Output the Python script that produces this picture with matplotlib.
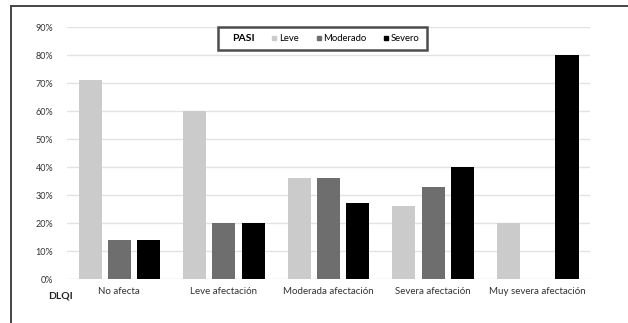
import numpy as np
import matplotlib.pyplot as plt
from matplotlib.lines import Line2D
from matplotlib.patches import Rectangle

plt.rcParams['font.family'] = ['Lato', 'DejaVu Sans']

categories = ["No afecta", "Leve afectación", "Moderada afectación",
              "Severa afectación", "Muy severa afectación"]
leve = [71, 60, 36, 26, 20]
moderado = [14, 20, 36, 33, 0]
severo = [14, 20, 27, 40, 80]
yticks = [0, 10, 20, 30, 40, 50, 60, 70, 80, 90]

series = [("Leve", leve, "#cbcbcb"),
          ("Moderado", moderado, "#6e6e6e"),
          ("Severo", severo, "#000000")]

fig = plt.figure(figsize=(6.28, 3.23), dpi=100)
ax = fig.add_axes([0.1067, 0.1362, 0.8328, 0.7802])

x = np.arange(len(categories))
width = 0.22
step = 0.28
for i, (name, vals, col) in enumerate(series):
    ax.bar(x + (i - 1) * step, np.array(vals) / 100, width, color=col,
           zorder=3, label=name)

ax.set_xlim(-0.5, len(categories) - 0.5)
ax.set_ylim(0, 0.9)
ax.set_yticks(np.array(yticks) / 100)
ax.set_yticklabels([f"{t}%" for t in yticks], fontsize=6.5, color="#333333")
ax.set_xticks(x)
ax.set_xticklabels(categories, fontsize=7, color="#333333")
ax.tick_params(length=0, pad=6)
ax.tick_params(axis='y', pad=10)
for s in ax.spines.values():
    s.set_visible(False)
ax.grid(axis='y', color="#e2e2e2", linewidth=1, zorder=0)

fig.text(0.077, 0.085, "DLQI", fontsize=7.5, fontweight='bold',
         color="#222222", va='center')

# legend with a bold leading "PASI" entry
handles = [Line2D([], [], linestyle='none')]
labels = ["PASI"]
for name, _, col in series:
    handles.append(Line2D([], [], marker='s', linestyle='none',
                          markersize=3.2, color=col))
    labels.append(name)
leg = ax.legend(handles, labels, ncol=4, loc='upper center',
                bbox_to_anchor=(0.488, 1.0), fontsize=6.8, frameon=True,
                fancybox=False, handlelength=0.5, handletextpad=0.25,
                columnspacing=1.85, borderpad=0.75, borderaxespad=0.0)
leg.get_frame().set_edgecolor("#222222")
leg.get_frame().set_linewidth(1.8)
leg.get_texts()[0].set_fontweight('bold')
leg.get_texts()[0].set_fontsize(7.5)

# outer frame running off the right and bottom edges
fig.patches.append(Rectangle((11 / 628, -0.1), 1.2, 1 - 6 / 323 + 0.1,
                             transform=fig.transFigure, fill=False,
                             edgecolor="#444444", linewidth=1.4))

fig.savefig("out.png", dpi=100, facecolor="white")
